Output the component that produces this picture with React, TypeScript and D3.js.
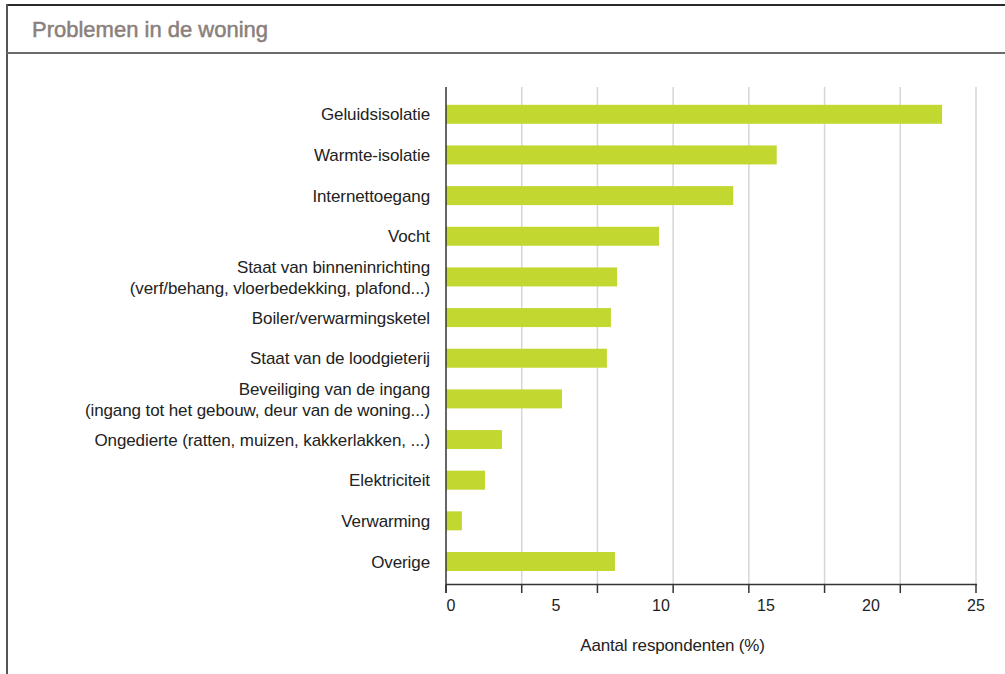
import React from "react";
import * as d3 from "d3";

const categories: string[][] = [
  ["Geluidsisolatie"],
  ["Warmte-isolatie"],
  ["Internettoegang"],
  ["Vocht"],
  ["Staat van binneninrichting", "(verf/behang, vloerbedekking, plafond...)"],
  ["Boiler/verwarmingsketel"],
  ["Staat van de loodgieterij"],
  ["Beveiliging van de ingang", "(ingang tot het gebouw, deur van de woning...)"],
  ["Ongedierte (ratten, muizen, kakkerlakken, ...)"],
  ["Elektriciteit"],
  ["Verwarming"],
  ["Overige"],
];
const values: number[] = [23.4, 15.6, 13.55, 10.05, 8.07, 7.78, 7.59, 5.47, 2.64, 1.84, 0.75, 7.97];
const tickLabels: number[] = [0, 5, 10, 15, 20, 25];
const gridCount = 7;

const title = "Problemen in de woning";
const xTitle = "Aantal respondenten (%)";

const FONT = "'Liberation Sans', Arial, sans-serif";

export default function App() {
  const W = 1005, H = 674;
  const left = 446, right = 976, top = 87, axisY = 584.5;
  const x = d3.scaleLinear().domain([0, 25]).range([left, right]);
  const xLab = d3.scaleLinear().domain([0, 25]).range([451, 976]);
  const keys = categories.map((c) => c.join(" "));
  const y = d3.scalePoint<string>().domain(keys).range([114.3, 561.5]);
  const barH = 19;
  const gridVals = d3.range(0, gridCount + 1).map((i) => (i * 25) / gridCount);

  return (
    <svg width={W} height={H} style={{ position: "absolute", left: 0, top: 0, background: "#fff" }}>
      <rect x={0} y={0} width={W} height={H} fill="#fff" />
      {/* frame */}
      <line x1={7} y1={5} x2={W} y2={5} stroke="#2a2a2a" strokeWidth={2} />
      <line x1={7} y1={4} x2={7} y2={H} stroke="#555" strokeWidth={2} />
      <line x1={7} y1={53} x2={W} y2={53} stroke="#6b6b6b" strokeWidth={2} />
      <text x={32} y={36.5} fontFamily={FONT} fontSize={22} fill="#8a7f7c" stroke="#8a7f7c" strokeWidth={0.5}>
        {title}
      </text>

      {/* grid */}
      {gridVals.slice(1).map((g, i) => (
        <line key={"g" + i} x1={x(g)} x2={x(g)} y1={top} y2={axisY} stroke="#d6d6d6" strokeWidth={1.5} />
      ))}

      {/* bars */}
      {values.map((v, i) => (
        <rect key={"b" + i} x={x(0)} y={(y(keys[i]) as number) - barH / 2} width={x(v) - x(0)} height={barH} fill="#c3d731" />
      ))}

      {/* axes */}
      <line x1={left} x2={left} y1={top} y2={593} stroke="#333" strokeWidth={1.5} />
      <line x1={left} x2={right + 1} y1={axisY} y2={axisY} stroke="#333" strokeWidth={1.5} />
      {gridVals.map((g, i) => (
        <line key={"t" + i} x1={x(g)} x2={x(g)} y1={axisY} y2={593} stroke="#333" strokeWidth={1.5} />
      ))}
      {tickLabels.map((t) => (
        <text key={"tl" + t} x={xLab(t)} y={611} textAnchor="middle" fontFamily={FONT} fontSize={16} fill="#222">
          {t}
        </text>
      ))}
      <text x={672.5} y={651} textAnchor="middle" fontFamily={FONT} fontSize={17} fill="#222" letterSpacing={-0.15}>
        {xTitle}
      </text>

      {/* category labels */}
      {categories.map((lines, i) => {
        const cy = y(keys[i]) as number;
        const lh = 21;
        const start = cy - ((lines.length - 1) * lh) / 2;
        return lines.map((ln, j) => (
          <text
            key={"c" + i + "_" + j}
            x={430}
            y={start + j * lh}
            dy="0.36em"
            textAnchor="end"
            fontFamily={FONT}
            fontSize={17}
            fill="#222"
            letterSpacing={-0.1}
          >
            {ln}
          </text>
        ));
      })}
    </svg>
  );
}
